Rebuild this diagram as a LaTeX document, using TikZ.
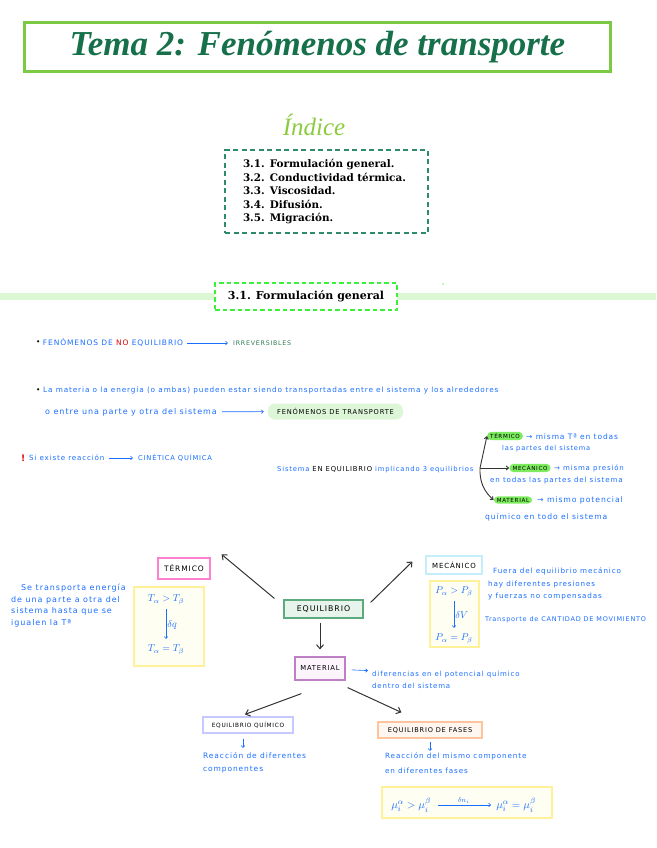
\documentclass[tikz,border=0pt]{standalone}
\usepackage{fontspec}
\setmainfont{DejaVu Serif}
\newfontfamily\hand[LetterSpace=12]{DejaVu Sans}
\newfontfamily\titlefont{Liberation Serif}
\usetikzlibrary{positioning,arrows.meta}
\definecolor{titlegreen}{HTML}{7CC943}
\definecolor{titletext}{HTML}{16704A}
\definecolor{idxlight}{HTML}{8CCB3F}
\definecolor{idxgreen}{HTML}{2E8B67}
\definecolor{handblue}{HTML}{1A6EFF}
\definecolor{nored}{HTML}{E00000}
\definecolor{irrgreen}{HTML}{2E7D4F}
\definecolor{band}{HTML}{DCF7D4}
\definecolor{dashgreen}{HTML}{3AF03A}
\definecolor{hilite}{HTML}{7CEB5E}
\definecolor{soft}{HTML}{DDF6D7}
\definecolor{pinkb}{HTML}{FF80CF}
\definecolor{skyb}{HTML}{C4EEFA}
\definecolor{yelb}{HTML}{FFF19A}
\definecolor{yelf}{HTML}{FFFEF2}
\definecolor{eqb}{HTML}{5DAA7E}
\definecolor{eqf}{HTML}{E6F4EC}
\definecolor{purb}{HTML}{BF7FC6}
\definecolor{purf}{HTML}{FCF6FC}
\definecolor{lavb}{HTML}{C6C8FF}
\definecolor{peachb}{HTML}{FFC49C}
\definecolor{peachf}{HTML}{FFF6EF}
\tikzset{
  hw/.style={font=\hand\fontsize{#1}{9}\selectfont, text=handblue, inner sep=0pt, anchor=west},
  hw/.default=7.3,
  hwpar/.style 2 args={hw, font=\hand\fontsize{#1}{#2}\selectfont, anchor=north west, align=left},
  hmath/.style={text=handblue, inner sep=1pt, font=\fontsize{10}{10}\selectfont},
  hlbox/.style={fill=hilite, rounded corners=4pt, inner xsep=3pt, inner ysep=1.5pt, font=\hand\fontsize{5.6}{7}\selectfont},
  tagbox/.style={draw, line width=1.2pt, inner sep=1pt, font=\hand\fontsize{#1}{8}\selectfont},
  ybox/.style={draw=yelb, fill=yelf, line width=1.2pt},
  karrow/.style={-{Straight Barb[length=4pt,width=7pt]}, line width=1pt, black!80},
  tarrow/.style={-{Straight Barb[length=2.5pt,width=4pt]}, line width=0.9pt, black!80},
  harrow/.style={-{Straight Barb[length=2pt,width=3.5pt]}, line width=0.6pt, handblue}
}
\begin{document}
\begin{tikzpicture}[x=1pt,y=-1pt]
  \useasboundingbox (0,0) rectangle (656,848);

  \node[draw=titlegreen, line width=2.2pt, minimum width=586pt, minimum height=49pt,
    font=\titlefont\bfseries\itshape\fontsize{35}{35}\selectfont, text=titletext] (title) at (317.5,47) {Tema 2: Fenómenos de transporte};
  \node[font=\titlefont\itshape\fontsize{25}{25}\selectfont, text=idxlight] (indice) at (314,125) {Índice};
  \node[draw=idxgreen, line width=1.6pt, dash pattern=on 5pt off 3.5pt, align=left, text width=167pt,
    inner xsep=18pt, minimum height=83pt, font=\bfseries\fontsize{10.4}{13.5}\selectfont] (index) at (326.5,191.5)
    {3.1. Formulación general.\\3.2. Conductividad térmica.\\3.3. Viscosidad.\\3.4. Difusión.\\3.5. Migración.};

  \fill[band] (0,292.5) rectangle (656,300);
  \node[fill=white, draw=dashgreen, line width=1.8pt, dash pattern=on 4.5pt off 3pt, minimum width=182pt,
    minimum height=27pt, font=\bfseries\fontsize{11}{11}\selectfont] (sec) at (306,296.5) {3.1. Formulación general};
  \fill[dashgreen!70] (443,284) circle (0.8pt);

  \node[hw, text=black] (b1) at (36,343) {•};
  \node[hw=7.5, right=2pt of b1] (noeq) {FENÓMENOS DE \textcolor{nored}{NO} EQUILIBRIO};
  \node[hw=6.3, text=irrgreen] (irrev) at (233,343) {IRREVERSIBLES};
  \draw[harrow, shorten <=4pt, shorten >=5pt] (noeq) -- (irrev);

  \node[hw, text=black] (b2) at (36,391) {•};
  \node[hw] (mat) at (43,390) {La materia o la energía (o ambas) pueden estar siendo transportadas entre el sistema y los alrededores};
  \node[hw=8] (parte) at (45,412) {o entre una parte y otra del sistema};
  \node[fill=soft, rounded corners=7pt, minimum width=135pt, minimum height=16pt,
    font=\hand\fontsize{6.7}{7}\selectfont] (transp) at (335.5,411.5) {FENÓMENOS DE TRANSPORTE};
  \draw[harrow, shorten <=5pt, shorten >=4pt] (parte) -- (transp);

  \node[hw, text=nored, font=\hand\bfseries\fontsize{9}{9}\selectfont] (warn) at (21,458) {!};
  \node[hw=7.1] (reac) at (29,458) {Si existe reacción};
  \node[hw=6.7] (cin) at (138,458) {CINÉTICA QUÍMICA};
  \draw[harrow, shorten <=4pt, shorten >=5pt] (reac) -- (cin);

  \node[hw=6.8] (sist) at (277,470) {Sistema \textcolor{black}{EN EQUILIBRIO} implicando 3 equilibrios};
  \coordinate (fork) at (480,468);
  \node[hlbox] (ttag) at (505,436) {TÉRMICO};
  \node[hw=7.5] (tdesc) at (526,437) {→ misma Tª en todas};
  \node[hw=6.7] (tdesc2) at (502,449) {las partes del sistema};
  \node[hlbox] (mtag) at (530,468) {MECÁNICO};
  \node[hw=7] (mdesc) at (554,468) {→ misma presión};
  \node[hw=7.1] (mdesc2) at (490,481) {en todas las partes del sistema};
  \node[hlbox] (ptag) at (513,500) {MATERIAL};
  \node[hw=7.7] (pdesc) at (537,500) {→ mismo potencial};
  \node[hw=7.6] (pdesc2) at (485,517) {químico en todo el sistema};
  \draw[tarrow] (fork) -- (ttag.west);
  \draw[tarrow] (fork) -- (mtag.west);
  \draw[tarrow] (fork) to[bend right=25] (ptag.west);

  \node[tagbox=7.8, draw=eqb, fill=eqf, minimum width=79pt, minimum height=18pt] (eq) at (323.5,609) {EQUILIBRIO};
  \node[tagbox=7.5, draw=pinkb, minimum width=52pt, minimum height=21pt] (termbox) at (184,568.5) {TÉRMICO};
  \node[tagbox=7, draw=skyb, minimum width=56pt, minimum height=18pt] (mechbox) at (454,565) {MECÁNICO};
  \node[tagbox=6.8, draw=purb, fill=purf, minimum width=50pt, minimum height=23pt] (matbox) at (320,668.5) {MATERIAL};
  \node[tagbox=5.8, draw=lavb, minimum width=90pt, minimum height=16pt] (eqq) at (248,725) {EQUILIBRIO QUÍMICO};
  \node[tagbox=6.6, draw=peachb, fill=peachf, minimum width=104pt, minimum height=16pt] (eqf) at (430,730) {EQUILIBRIO DE FASES};
  \draw[karrow] ([xshift=-9pt,yshift=1pt]eq.north west) -- ([xshift=11pt,yshift=3pt]termbox.north east);
  \draw[karrow] ([xshift=7pt,yshift=-3pt]eq.north east) -- ([xshift=-13pt,yshift=13pt]mechbox.south west);
  \draw[karrow, shorten <=4pt, shorten >=7pt] ([xshift=-3.5pt]eq.south) -- (matbox.north);
  \draw[karrow] ([xshift=7pt,yshift=-13pt]matbox.south west) -- ([xshift=-3pt,yshift=2pt]eqq.north);
  \draw[karrow] ([xshift=2pt,yshift=-7pt]matbox.south east) -- ([xshift=24pt,yshift=9pt]eqf.north west);

  \node[ybox, minimum width=70pt, minimum height=79pt] (tyel) at (169,626.5) {};
  \node[hmath] (tgt) at (166,600) {$T_\alpha > T_\beta$};
  \node[hmath] (teq) at (166,650) {$T_\alpha = T_\beta$};
  \draw[harrow, shorten <=3pt, shorten >=5pt] (tgt) -- node[right, hmath] {$\delta q$} (teq);
  \node[hwpar={8}{11.5}] (ttext) at (11,584)
    {\hspace*{10pt}Se transporta energía\\de una parte a otra del\\sistema hasta que se\\igualen la Tª};

  \node[ybox, minimum width=49pt, minimum height=66pt] (pyel) at (454.5,614) {};
  \node[hmath] (pgt) at (454,592) {$P_\alpha > P_\beta$};
  \node[hmath] (peq) at (454,639) {$P_\alpha = P_\beta$};
  \draw[harrow, shorten <=3pt, shorten >=5pt] (pgt) -- node[right, hmath] {$\delta V$} (peq);
  \node[hwpar={7.2}{12.5}] (ptext) at (488,568)
    {\hspace*{5pt}Fuera del equilibrio mecánico\\hay diferentes presiones\\y fuerzas no compensadas};
  \node[hw=6.5] (mov) at (485,620) {Transporte de CANTIDAD DE MOVIMIENTO};

  \node[hw=7] (dif) at (372,674) {diferencias en el potencial químico};
  \node[hw=7] (dif2) at (372,686) {dentro del sistema};
  \draw[harrow, shorten <=6pt, shorten >=4pt] (matbox) -- (dif);

  \node[hwpar={7.5}{13}] (reacq) at (203,752) {Reacción de diferentes\\componentes};
  \node[hwpar={7.2}{15}] (reacf) at (385,753) {Reacción del mismo componente\\en diferentes fases};
  \draw[harrow, shorten <=5pt, shorten >=4pt] ([xshift=-5pt]eqq.south) -- ([xshift=-5pt]eqq.south |- reacq.north);
  \draw[harrow, shorten <=3pt, shorten >=2pt] (eqf.south) -- (eqf.south |- reacf.north);

  \node[ybox, minimum width=170pt, minimum height=31pt] (muyel) at (467,802.5) {};
  \node[hmath, font=\fontsize{11}{11}\selectfont] (mugt) at (411,805) {$\mu_i^\alpha > \mu_i^\beta$};
  \node[hmath, font=\fontsize{11}{11}\selectfont] (mueq) at (516,805) {$\mu_i^\alpha = \mu_i^\beta$};
  \draw[harrow, shorten <=6pt, shorten >=4pt] (mugt) -- node[above, hmath, font=\fontsize{7}{7}\selectfont] {$\delta n_i$} (mueq);
\end{tikzpicture}
\end{document}
